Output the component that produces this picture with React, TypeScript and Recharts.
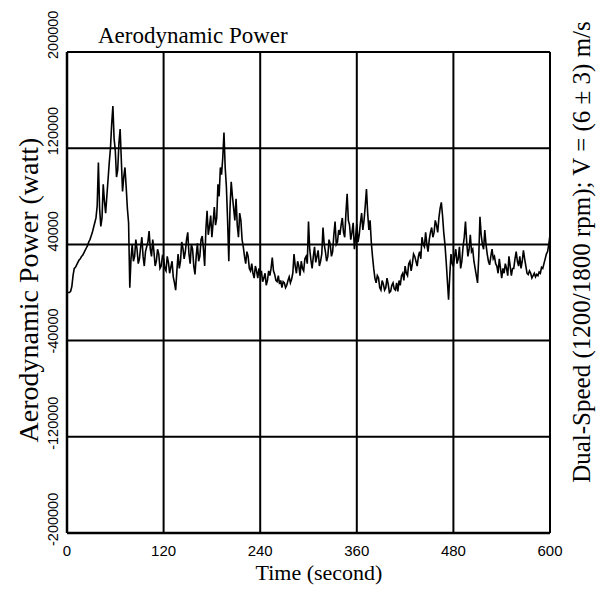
import React from 'react';
import { LineChart, Line, XAxis, YAxis, CartesianGrid } from 'recharts';

const sampleStep = 1.5;
const powerKW = [
    0, 0, 0, 1, 5, 14, 20, 21, 23, 25, 27, 28, 30, 31, 33, 35, 37, 39, 42, 44,
    47, 50, 54, 58, 62, 72, 108, 70, 55, 62, 90, 76, 66, 80, 94, 108, 120, 140, 155, 128,
    118, 96, 102, 124, 136, 110, 84, 96, 104, 88, 70, 58, 4, 28, 40, 26, 30, 44, 36, 24,
    28, 38, 46, 30, 22, 34, 38, 42, 51, 36, 30, 44, 34, 22, 26, 36, 32, 20, 22, 30,
    28, 20, 18, 30, 25, 16, 21, 26, 13, 8, 2, 18, 32, 20, 26, 42, 37, 28, 34, 44,
    50, 32, 24, 40, 36, 22, 15, 30, 41, 26, 30, 44, 47, 36, 22, 52, 68, 48, 55, 64,
    46, 58, 71, 56, 62, 90, 80, 104, 98, 112, 133, 104, 88, 60, 26, 70, 92, 80, 70, 60,
    78, 56, 46, 66, 60, 44, 38, 30, 24, 34, 30, 20, 18, 24, 16, 12, 22, 18, 12, 20,
    14, 18, 9, 12, 16, 6, 10, 18, 14, 20, 29, 18, 15, 10, 9, 14, 7, 10, 4, 9,
    8, 4, 6, 10, 13, 8, 11, 16, 32, 22, 16, 26, 22, 14, 26, 20, 18, 28, 30, 24,
    59, 36, 27, 20, 30, 38, 25, 30, 35, 22, 26, 32, 54, 40, 34, 26, 30, 44, 40, 30,
    34, 48, 59, 40, 42, 52, 48, 56, 62, 50, 46, 66, 82, 60, 56, 44, 50, 58, 36, 46,
    57, 42, 48, 58, 66, 52, 60, 72, 86, 66, 52, 60, 42, 30, 20, 12, 8, 14, 12, 4,
    2, 10, 7, 2, 4, 12, 7, 0, 1, 6, 8, 3, 2, 8, 1, 10, 6, 14, 16, 10,
    22, 16, 14, 24, 26, 18, 24, 32, 30, 26, 22, 30, 34, 28, 46, 40, 38, 50, 40, 34,
    44, 50, 54, 46, 50, 60, 56, 50, 62, 70, 75, 64, 50, 40, 26, 10, -6, 14, 32, 24,
    22, 30, 36, 24, 28, 38, 20, 26, 38, 46, 59, 42, 30, 36, 48, 34, 36, 26, 20, 14,
    8, 30, 63, 48, 40, 36, 52, 40, 32, 26, 23, 30, 36, 28, 30, 24, 22, 16, 28, 20,
    12, 20, 16, 24, 20, 14, 30, 22, 14, 20, 20, 28, 34, 26, 22, 30, 20, 26, 35, 28,
    22, 16, 15, 18, 16, 12, 14, 16, 13, 15, 14, 17, 16, 21, 20, 24, 28, 32, 34, 40,
    48,
];
const timeTicks = [0, 120, 240, 360, 480, 600];
const powerTicks = [-200000, -120000, -40000, 40000, 120000, 200000];

const data = powerKW.map((p, i) => ({ t: i * sampleStep, p: p * 1000 }));

const serif = '"Liberation Serif", "Times New Roman", serif';
const sans = '"Liberation Sans", Arial, sans-serif';

const XTick = (props: any) => {
    const { x, payload } = props;
    return (
        <text x={x} y={556} textAnchor="middle" fontFamily={sans} fontSize={15} fill="#000">
            {payload.value}
        </text>
    );
};

const YTick = (props: any) => {
    const { y, payload } = props;
    const yy = y + (payload.value < 0 ? 13 : 7);
    return (
        <text x={58} y={yy} transform={`rotate(-90 58 ${yy})`} textAnchor="start" fontFamily={sans} fontSize={14.5} fill="#000">
            {payload.value}
        </text>
    );
};

export default function App() {
    return (
        <div style={{ position: 'relative', width: 603, height: 596, background: '#fff' }}>
            <style>{'body{margin:0}'}</style>
            <LineChart width={603} height={596} data={data} margin={{ top: 52, right: 53, bottom: 23, left: 17 }}>
                <CartesianGrid stroke="#000" strokeWidth={2} />
                <XAxis
                    type="number"
                    dataKey="t"
                    domain={[0, 600]}
                    ticks={timeTicks}
                    tick={XTick}
                    tickLine={false}
                    axisLine={{ stroke: '#000', strokeWidth: 2.5 }}
                    height={40}
                />
                <YAxis
                    type="number"
                    domain={[-200000, 200000]}
                    ticks={powerTicks}
                    tick={YTick}
                    tickLine={false}
                    axisLine={{ stroke: '#000', strokeWidth: 2.5 }}
                    width={50}
                />
                <Line type="linear" dataKey="p" stroke="#000" strokeWidth={1.6} dot={false} isAnimationActive={false} />
            </LineChart>
            <svg width={603} height={596} style={{ position: 'absolute', left: 0, top: 0, pointerEvents: 'none' }}>
                <text x={98} y={43} fontFamily={serif} fontSize={23} fill="#000">Aerodynamic Power</text>
                <text x={38} y={290} transform="rotate(-90 38 290)" textAnchor="middle" fontFamily={serif} fontSize={28} fill="#000">
                    Aerodynamic Power (watt)
                </text>
                <text x={590} y={252} transform="rotate(-90 590 252)" textAnchor="middle" fontFamily={serif} fontSize={25} fill="#000">
                    Dual-Speed (1200/1800 rpm);  V = (6 ± 3) m/s
                </text>
                <text x={319} y={580} textAnchor="middle" fontFamily={serif} fontSize={22} fill="#000">Time (second)</text>
            </svg>
        </div>
    );
}
